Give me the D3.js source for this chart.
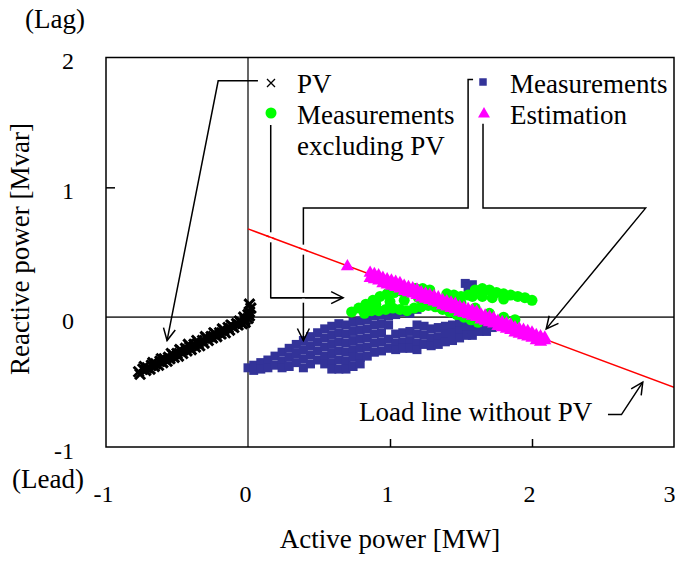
<!DOCTYPE html>
<html>
<head>
<meta charset="utf-8">
<script src="https://cdn.jsdelivr.net/npm/d3@7"></script>
<style>
  body { margin: 0; background: #fff; }
  svg text { font-family: "Liberation Serif", "Times New Roman", serif; fill: #000; }
</style>
</head>
<body>
<div id="chart"></div>
<script>
////////////////////////////////////////////////////////////////////
////////////////////////////  Data  ////////////////////////////////
const xTicks = [-1, 0, 1, 2, 3];
const yTicks = [-1, 0, 1, 2];

// PV (active, reactive)
const pvPoints = [
  [-0.77, -0.42], [-0.74, -0.40], [-0.71, -0.39], [-0.68, -0.37], [-0.65, -0.36],
  [-0.62, -0.34], [-0.59, -0.32], [-0.56, -0.31], [-0.53, -0.29], [-0.50, -0.28],
  [-0.47, -0.26], [-0.44, -0.24], [-0.41, -0.23], [-0.38, -0.21], [-0.35, -0.20],
  [-0.32, -0.18], [-0.29, -0.16], [-0.26, -0.15], [-0.23, -0.13], [-0.20, -0.12],
  [-0.17, -0.10], [-0.14, -0.08], [-0.11, -0.07], [-0.08, -0.05], [-0.05, -0.04],
  [-0.02, -0.02], [0.00, -0.01],
  [-0.76, -0.44], [-0.72, -0.41], [-0.69, -0.40], [-0.66, -0.38], [-0.63, -0.37],
  [-0.60, -0.35], [-0.57, -0.34], [-0.55, -0.32], [-0.52, -0.31], [-0.49, -0.30],
  [-0.46, -0.28], [-0.43, -0.26], [-0.40, -0.25], [-0.37, -0.23], [-0.34, -0.22],
  [-0.31, -0.20], [-0.28, -0.18], [-0.25, -0.16], [-0.22, -0.15], [-0.19, -0.13],
  [-0.16, -0.12], [-0.13, -0.10], [-0.10, -0.08], [-0.07, -0.06], [-0.04, -0.05],
  [-0.02, -0.04],
  [-0.73, -0.38], [-0.67, -0.35], [-0.61, -0.32], [-0.54, -0.28], [-0.48, -0.25],
  [-0.42, -0.21], [-0.36, -0.18], [-0.30, -0.15], [-0.24, -0.12], [-0.18, -0.09],
  [-0.12, -0.06], [-0.06, -0.03], [-0.03, 0.00],
  [0.01, 0.01], [0.01, 0.04], [0.02, 0.07], [0.01, 0.10], [0.00, 0.02]
];

// Measurements (blue squares)
const measPoints = [
  [0.00, -0.39], [0.04, -0.37], [0.04, -0.41], [0.09, -0.35], [0.09, -0.40],
  [0.14, -0.33], [0.14, -0.39], [0.19, -0.30], [0.19, -0.37],
  [0.24, -0.27], [0.24, -0.34], [0.24, -0.39], [0.29, -0.24], [0.29, -0.31], [0.29, -0.38],
  [0.34, -0.21], [0.34, -0.28], [0.34, -0.35],
  [0.39, -0.18], [0.39, -0.25], [0.39, -0.32], [0.39, -0.39],
  [0.44, -0.15], [0.44, -0.22], [0.44, -0.29], [0.44, -0.36],
  [0.49, -0.12], [0.49, -0.19], [0.49, -0.26], [0.49, -0.33],
  [0.54, -0.09], [0.54, -0.16], [0.54, -0.23], [0.54, -0.30], [0.54, -0.36],
  [0.59, -0.07], [0.59, -0.14], [0.59, -0.21], [0.59, -0.28], [0.59, -0.35], [0.59, -0.40],
  [0.64, -0.05], [0.64, -0.12], [0.64, -0.19], [0.64, -0.26], [0.64, -0.33], [0.64, -0.40],
  [0.69, -0.06], [0.69, -0.13], [0.69, -0.20], [0.69, -0.27], [0.69, -0.34], [0.69, -0.40],
  [0.74, -0.04], [0.74, -0.11], [0.74, -0.18], [0.74, -0.25], [0.74, -0.31], [0.74, -0.38],
  [0.79, -0.03], [0.79, -0.10], [0.79, -0.17], [0.79, -0.24], [0.79, -0.31], [0.79, -0.36],
  [0.84, -0.02], [0.84, -0.09], [0.84, -0.16], [0.84, -0.23], [0.84, -0.30],
  [0.89, 0.01], [0.89, -0.06], [0.89, -0.13], [0.89, -0.20], [0.89, -0.27],
  [0.94, 0.02], [0.94, -0.05], [0.94, -0.12], [0.94, -0.19], [0.94, -0.26],
  [0.99, 0.01], [0.99, -0.06], [0.99, -0.17], [0.99, -0.24],
  [1.04, 0.02], [1.04, -0.13], [1.04, -0.20], [1.04, -0.25],
  [1.09, 0.04], [1.09, -0.12], [1.09, -0.19], [1.09, -0.24],
  [1.14, 0.03], [1.14, -0.11], [1.14, -0.18], [1.14, -0.24],
  [1.19, 0.06], [1.19, -0.06], [1.19, -0.13], [1.19, -0.20], [1.19, -0.25],
  [1.24, -0.07], [1.24, -0.14], [1.24, -0.21],
  [1.29, -0.09], [1.29, -0.16], [1.29, -0.22],
  [1.34, -0.08], [1.34, -0.15], [1.34, -0.21],
  [1.39, -0.07], [1.39, -0.13], [1.39, -0.19],
  [1.44, -0.06], [1.44, -0.12], [1.44, -0.18],
  [1.49, -0.05], [1.49, -0.11], [1.49, -0.16],
  [1.54, -0.03], [1.54, -0.09], [1.54, -0.14], [1.53, 0.26], [1.55, 0.23],
  [1.58, -0.03], [1.58, -0.09], [1.58, -0.14], [1.58, 0.25],
  [1.63, -0.05], [1.63, -0.11], [1.68, -0.06], [1.68, -0.11], [1.72, -0.08]
];

// Measurements excluding PV (green circles)
const exclPoints = [
  [0.73, 0.04], [0.78, 0.07], [0.83, 0.10], [0.88, 0.13], [0.93, 0.16], [0.98, 0.18],
  [1.03, 0.19], [1.08, 0.20], [1.13, 0.21], [1.18, 0.22], [1.23, 0.22], [1.28, 0.21],
  [0.82, 0.03], [0.87, 0.05], [0.92, 0.05], [0.97, 0.06], [1.02, 0.07], [1.07, 0.06],
  [1.12, 0.05], [1.17, 0.07], [1.22, 0.08], [1.27, 0.09], [1.32, 0.08], [1.37, 0.06],
  [1.42, 0.04], [1.47, 0.02], [1.52, 0.00], [1.57, -0.02], [1.62, -0.04],
  [0.90, 0.10], [1.00, 0.12], [1.10, 0.13], [1.20, 0.15], [1.30, 0.15], [1.40, 0.14],
  [1.50, 0.11], [1.60, 0.07], [1.70, 0.03], [1.80, 0.00], [1.88, -0.02],
  [1.40, 0.18], [1.45, 0.17], [1.50, 0.16], [1.55, 0.17], [1.60, 0.21], [1.65, 0.22],
  [1.70, 0.21], [1.75, 0.19], [1.80, 0.18], [1.85, 0.17], [1.90, 0.16], [1.95, 0.15],
  [2.00, 0.13], [1.58, 0.16], [1.65, 0.16], [1.72, 0.15], [1.80, 0.14]
];

// Estimation (magenta triangles): active power, upper and lower edge of the band
const estP = [
  0.86, 0.89, 0.92, 0.95, 0.98, 1.01, 1.04, 1.07, 1.10, 1.13, 1.16, 1.19, 1.22, 1.25,
  1.28, 1.31, 1.34, 1.37, 1.40, 1.43, 1.46, 1.49, 1.52, 1.55, 1.58, 1.61, 1.64, 1.67,
  1.70, 1.73, 1.76, 1.79, 1.82, 1.85, 1.88, 1.91, 1.94, 1.97, 2.00, 2.03, 2.06, 2.09
];
const estQTop = [
  0.34, 0.33, 0.32, 0.30, 0.29, 0.28, 0.27, 0.26, 0.24, 0.23, 0.22, 0.21, 0.19, 0.18,
  0.17, 0.16, 0.15, 0.13, 0.12, 0.11, 0.10, 0.08, 0.07, 0.06, 0.05, 0.04, 0.02, 0.01,
  0.00, -0.01, -0.03, -0.04, -0.05, -0.06, -0.08, -0.09, -0.10, -0.11, -0.12, -0.14, -0.15, -0.16
];
const estQBottom = [
  0.30, 0.29, 0.28, 0.26, 0.25, 0.24, 0.23, 0.22, 0.20, 0.19, 0.18, 0.17, 0.15, 0.14,
  0.13, 0.12, 0.11, 0.09, 0.08, 0.07, 0.06, 0.04, 0.03, 0.02, 0.01, 0.00, -0.02, -0.03,
  -0.04, -0.05, -0.07, -0.08, -0.09, -0.10, -0.12, -0.13, -0.14, -0.15, -0.16, -0.18, -0.19, -0.18
];
const estSingle = [[0.70, 0.39]];

// Load line without PV
const loadLine = [[0, 0.68], [3, -0.54]];

// callout leaders (data units), last point gets the arrow head
const callouts = [
  [[0.07, 1.82], [-0.21, 1.82], [-0.57, -0.18]],
  [[0.16, 1.48], [0.16, 0.15], [0.67, 0.15]],
  [[1.585, 1.83], [1.55, 1.83], [1.55, 0.84], [0.39, 0.84], [0.39, -0.18]],
  [[1.655, 1.49], [1.655, 0.84], [2.80, 0.84], [2.10, -0.09]],
  [[2.535, -0.75], [2.63, -0.75], [2.78, -0.50]]
];
// where a vertical leader is broken by a crossing line: [active power, reactive power]
const leaderGaps = [[0.16, 0.615], [0.39, 0.52], [0.39, 0.15]];

////////////////////////////////////////////////////////////////////
////////////////////////////  Init  ////////////////////////////////
const width = 675;
const height = 563;
const margin = { top: 57.5, right: 1, bottom: 116, left: 106 };

const svg = d3.select("#chart").append("svg")
  .attr("width", width)
  .attr("height", height);

const xScale = d3.scaleLinear()
  .domain([-1, 3])
  .range([margin.left, width - margin.right]);

const yScale = d3.scaleLinear()
  .domain([-1, 2])
  .range([height - margin.bottom, margin.top]);

const estPoints = estSingle
  .concat(estP.map((p, i) => [p, estQTop[i]]))
  .concat(estP.map((p, i) => [p, estQBottom[i]]));

const defs = svg.append("defs");
defs.append("clipPath").attr("id", "plot-clip")
  .append("rect")
  .attr("x", xScale(-1)).attr("y", yScale(2))
  .attr("width", xScale(3) - xScale(-1))
  .attr("height", yScale(-1) - yScale(2));

defs.append("marker")
  .attr("id", "arrow")
  .attr("markerUnits", "userSpaceOnUse")
  .attr("viewBox", "-14 -8 16 16")
  .attr("markerWidth", 16).attr("markerHeight", 16)
  .attr("refX", 0).attr("refY", 0)
  .attr("orient", "auto")
  .append("path")
  .attr("d", "M-12,-6L0,0L-12,6")
  .attr("fill", "none")
  .attr("stroke", "#000")
  .attr("stroke-width", 1.5);

// zero lines
svg.append("line")
  .attr("x1", xScale(0)).attr("x2", xScale(0))
  .attr("y1", yScale(2)).attr("y2", yScale(-1))
  .attr("stroke", "#404040").attr("stroke-width", 1.6);
svg.append("line")
  .attr("x1", xScale(-1)).attr("x2", xScale(3))
  .attr("y1", yScale(0)).attr("y2", yScale(0))
  .attr("stroke", "#404040").attr("stroke-width", 1.8);

// inner ticks
svg.append("g")
  .attr("transform", `translate(${xScale(-1)},0)`)
  .call(d3.axisLeft(yScale).tickValues([1]).tickSize(-9).tickFormat(""))
  .call((g) => g.select(".domain").remove())
  .selectAll("line").attr("stroke-width", 1.5);
svg.append("g")
  .attr("transform", `translate(0,${yScale(-1)})`)
  .call(d3.axisBottom(xScale).tickValues([1, 2]).tickSize(-8).tickFormat(""))
  .call((g) => g.select(".domain").remove())
  .selectAll("line").attr("stroke-width", 1.5);

// tick labels
svg.append("g")
  .attr("transform", `translate(${xScale(-1)},0)`)
  .call(d3.axisLeft(yScale).tickValues(yTicks).tickSize(0).tickPadding(32).tickFormat((d) => String(d)))
  .call((g) => g.select(".domain").remove())
  .selectAll("text")
  .style("font-family", "'Liberation Serif', serif")
  .style("font-size", "24px")
  .attr("dy", 11);

svg.append("g")
  .attr("transform", `translate(-3,${yScale(-1)})`)
  .call(d3.axisBottom(xScale).tickValues(xTicks).tickSize(0).tickPadding(0).tickFormat((d) => String(d)))
  .call((g) => g.select(".domain").remove())
  .selectAll("text")
  .style("font-family", "'Liberation Serif', serif")
  .style("font-size", "24px")
  .attr("y", 55)
  .attr("dy", 0)
  .filter((d) => d === 3)
  .attr("text-anchor", "end")
  .attr("dx", 4);

// load line
const loadPath = d3.line().x((d) => xScale(d[0])).y((d) => yScale(d[1]));
svg.append("path")
  .datum(loadLine)
  .attr("clip-path", "url(#plot-clip)")
  .attr("d", loadPath)
  .attr("fill", "none")
  .attr("stroke", "#ff0000")
  .attr("stroke-width", 1.5);

// PV crosses
svg.append("g").selectAll("path")
  .data(pvPoints)
  .join("path")
  .attr("transform", (d) => `translate(${xScale(d[0])},${yScale(d[1])})`)
  .attr("d", "M-5,-5L5,5M-5,5L5,-5")
  .attr("stroke", "#000")
  .attr("stroke-width", 3);

// measurements
svg.append("g").selectAll("path")
  .data(measPoints)
  .join("path")
  .attr("transform", (d) => `translate(${xScale(d[0])},${yScale(d[1])})`)
  .attr("d", d3.symbol(d3.symbolSquare, 81))
  .attr("fill", "#333399");

// measurements excluding PV
svg.append("g").selectAll("circle")
  .data(exclPoints)
  .join("circle")
  .attr("cx", (d) => xScale(d[0]))
  .attr("cy", (d) => yScale(d[1]))
  .attr("r", 5.5)
  .attr("fill", "#00ff00");

// estimation
svg.append("g").selectAll("path")
  .data(estPoints)
  .join("path")
  .attr("transform", (d) => `translate(${xScale(d[0])},${yScale(d[1])})`)
  .attr("d", d3.symbol(d3.symbolTriangle, 75))
  .attr("fill", "#ff00ff");

// frame
svg.append("rect")
  .attr("x", xScale(-1)).attr("y", yScale(2))
  .attr("width", xScale(3) - xScale(-1))
  .attr("height", yScale(-1) - yScale(2))
  .attr("fill", "none")
  .attr("stroke", "#000")
  .attr("stroke-width", 1.5);

// callouts
svg.append("g").selectAll("path")
  .data(callouts)
  .join("path")
  .attr("d", d3.line().x((d) => xScale(d[0])).y((d) => yScale(d[1])))
  .attr("fill", "none")
  .attr("stroke", "#000")
  .attr("stroke-width", 1.5)
  .attr("marker-end", "url(#arrow)");

// breaks in the leaders, then the crossing lines on top again
svg.append("g").selectAll("line")
  .data(leaderGaps)
  .join("line")
  .attr("x1", (d) => xScale(d[0])).attr("x2", (d) => xScale(d[0]))
  .attr("y1", (d) => yScale(d[1]) - 5).attr("y2", (d) => yScale(d[1]) + 5)
  .attr("stroke", "#fff")
  .attr("stroke-width", 3);
svg.append("g").selectAll("path")
  .data(leaderGaps.slice(0, 2))
  .join("path")
  .attr("d", (d) => {
    const q = (p) => loadLine[0][1] + (loadLine[1][1] - loadLine[0][1]) * (p - loadLine[0][0]) / (loadLine[1][0] - loadLine[0][0]);
    return loadPath([[d[0] - 0.03, q(d[0] - 0.03)], [d[0] + 0.03, q(d[0] + 0.03)]]);
  })
  .attr("stroke", "#ff0000")
  .attr("stroke-width", 1.5);
svg.append("line")
  .attr("x1", xScale(0.16)).attr("x2", xScale(0.67) - 2)
  .attr("y1", yScale(0.15)).attr("y2", yScale(0.15))
  .attr("stroke", "#000").attr("stroke-width", 1.5);

// legend
const legend = svg.append("g").style("font-size", "27px");
legend.append("path")
  .attr("transform", "translate(271,83)")
  .attr("d", "M-4,-4L4,4M-4,4L4,-4")
  .attr("stroke", "#000").attr("stroke-width", 1.3);
legend.append("circle").attr("cx", 271).attr("cy", 113).attr("r", 5.5).attr("fill", "#00ff00");
legend.append("path")
  .attr("transform", "translate(483,82)")
  .attr("d", d3.symbol(d3.symbolSquare, 56))
  .attr("fill", "#333399");
legend.append("path")
  .attr("transform", "translate(484,114)")
  .attr("d", d3.symbol(d3.symbolTriangle, 62))
  .attr("fill", "#ff00ff");
legend.append("text").attr("x", 297).attr("y", 93).text("PV");
legend.append("text").attr("x", 297).attr("y", 124).text("Measurements");
legend.append("text").attr("x", 297).attr("y", 155).text("excluding PV");
legend.append("text").attr("x", 510).attr("y", 93).text("Measurements");
legend.append("text").attr("x", 510).attr("y", 124).text("Estimation");
legend.append("text").attr("x", 359).attr("y", 421).text("Load line without PV");

// axis titles
svg.append("text")
  .attr("x", 390).attr("y", 548)
  .attr("text-anchor", "middle")
  .style("font-size", "27px")
  .text("Active power [MW]");
svg.append("text")
  .attr("transform", "translate(29,249) rotate(-90)")
  .attr("text-anchor", "middle")
  .style("font-size", "27px")
  .text("Reactive power [Mvar]");
svg.append("text")
  .attr("x", 55).attr("y", 28)
  .attr("text-anchor", "middle")
  .style("font-size", "27px")
  .text("(Lag)");
svg.append("text")
  .attr("x", 48).attr("y", 488)
  .attr("text-anchor", "middle")
  .style("font-size", "27px")
  .text("(Lead)");
</script>
</body>
</html>
